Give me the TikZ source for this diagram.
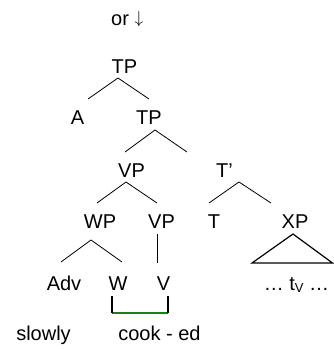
\documentclass[tikz,border=0pt]{standalone}
\usepackage{fontspec}
\setmainfont{Liberation Sans}
\definecolor{brgreen}{RGB}{20,130,20}
\begin{document}
\begin{tikzpicture}[x=1pt,y=-1pt,
  lab/.style={inner sep=0pt,anchor=base,font=\fontsize{20}{24}\selectfont},
  br/.style={line width=0.8pt},
  tri/.style={line width=1.2pt},
  brk/.style={line width=2pt}]
\useasboundingbox (0,0) rectangle (334,349);
% labels
\node[lab,anchor=base west] (or) at (111,25) {or {\fontsize{18}{20}\selectfont\raisebox{2pt}{$\downarrow$}}};
\node[lab] (tp1) at (124.5,73) {TP};
\node[lab] (a) at (77.5,124) {A};
\node[lab] (tp2) at (149,124) {TP};
\node[lab] (vp1) at (131.5,177) {VP};
\node[lab] (tbar) at (224.5,177) {T’};
\node[lab] (wp) at (100,228) {WP};
\node[lab] (vp2) at (161.5,228) {VP};
\node[lab] (t) at (214,228) {T};
\node[lab] (xp) at (295,228) {XP};
\node[lab] (adv) at (64,290) {Adv};
\node[lab] (w) at (118,290) {W};
\node[lab] (v) at (163.5,290) {V};
\node[lab] (tv) at (296.5,290) {… t{\fontsize{13}{13}\selectfont\raisebox{-2.5pt}{V}} …};
\node[lab] (slowly) at (43.5,340) {slowly};
\node[lab] (cooked) at (159.5,340) {cook - ed};
% branch coordinates
\coordinate (tp1s) at (118,78);  \coordinate (tp1l) at (88,99);  \coordinate (tp1r) at (149,99);
\coordinate (tp2s) at (155,130); \coordinate (tp2l) at (125,152); \coordinate (tp2r) at (187,152);
\coordinate (vp1s) at (126,182); \coordinate (vp1l) at (97,203);  \coordinate (vp1r) at (157,203);
\coordinate (tbs) at (239,182);  \coordinate (tbl) at (209,203);  \coordinate (tbr) at (271,203);
\coordinate (wps) at (91,240);   \coordinate (wpl) at (61,262);   \coordinate (wpr) at (122,262);
\coordinate (vp2s) at (157,234); \coordinate (vp2e) at (157,263);
\coordinate (xpa) at (293,234);  \coordinate (xpl) at (252,263);  \coordinate (xpr) at (332.5,263);
\coordinate (bl1) at (112,296);  \coordinate (bl2) at (112,313);
\coordinate (br1) at (168,296);  \coordinate (br2) at (168,313);
% branches
\draw[br] (tp1l) -- (tp1s) -- (tp1r);
\draw[br] (tp2l) -- (tp2s) -- (tp2r);
\draw[br] (vp1l) -- (vp1s) -- (vp1r);
\draw[br] (tbl) -- (tbs) -- (tbr);
\draw[br] (wpl) -- (wps) -- (wpr);
\draw[br] (vp2s) -- (vp2e);
\draw[tri,line join=miter] (xpa) -- (xpl) -- (xpr) -- cycle;
% bracket
\draw[brk,brgreen] (bl2) -- (br2);
\draw[brk] (bl1) -- (bl2);
\draw[brk] (br1) -- (br2);
\end{tikzpicture}
\end{document}
